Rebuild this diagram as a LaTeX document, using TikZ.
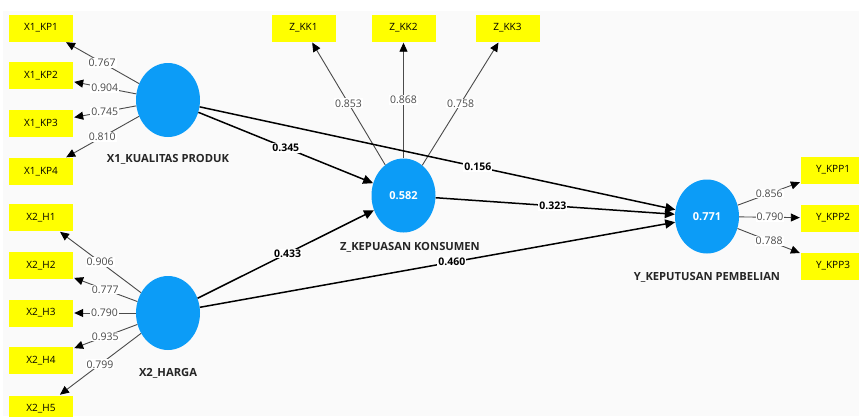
\documentclass[tikz,border=0pt]{standalone}
\usepackage{fontspec}
\setmainfont{Open Sans}
\usetikzlibrary{shapes.geometric,arrows.meta}
\definecolor{lvblue}{HTML}{0C9CF7}
\definecolor{indyellow}{HTML}{FFFF00}
\definecolor{canvas}{HTML}{FAFAFA}
\definecolor{loadgray}{HTML}{4A4A4A}
\tikzset{
  indicator/.style={fill=indyellow, minimum width=64pt, minimum height=27pt, inner sep=0pt, font=\fontsize{10}{11}\selectfont},
  latent/.style={ellipse, fill=lvblue, minimum width=64pt, minimum height=74pt, inner sep=0pt, text=white, font=\bfseries\fontsize{11}{12}\selectfont},
  lvname/.style={font=\bfseries\fontsize{11.2}{12}\selectfont, text=black!85},
  loading/.style={draw=loadgray, line width=0.9pt, -{Triangle[length=9pt,width=8pt,color=black]}, shorten >=1pt},
  loadlabel/.style={fill=white, text=loadgray, inner sep=1pt, font=\fontsize{10.5}{11}\selectfont},
  structural/.style={draw=black, line width=1.5pt, -{Triangle[length=10pt,width=9pt]}},
  pathlabel/.style={fill=white, text=black, inner sep=1pt, font=\bfseries\fontsize{10.5}{11}\selectfont},
}
\begin{document}
\begin{tikzpicture}[x=1pt,y=-1pt]
  \useasboundingbox (0,0) rectangle (859,416);
  \fill[white] (0,0) rectangle (859,416);
  \fill[canvas] (3,11) rectangle (859,416);
  \begin{scope}
  \clip (0,0) rectangle (859,416);

  % latent variables
  \node[latent] (x1) at (168,100) {};
  \node[latent] (x2) at (168,313) {};
  \node[latent] (z) at (403.5,195.5) {0.582};
  \node[latent] (y) at (707,216.5) {0.771};

  \node[lvname] (x1name) at (168,159) {X1\_KUALITAS PRODUK};
  \node[lvname] (x2name) at (168,373) {X2\_HARGA};
  \node[lvname] (zname) at (410,247) {Z\_KEPUASAN KONSUMEN};
  \node[lvname] (yname) at (707,277) {Y\_KEPUTUSAN PEMBELIAN};

  % indicators of X1
  \node[indicator] (kp1) at (41,28) {X1\_KP1};
  \node[indicator] (kp2) at (41,75.5) {X1\_KP2};
  \node[indicator] (kp3) at (41,123.5) {X1\_KP3};
  \node[indicator] (kp4) at (41,171.5) {X1\_KP4};

  % indicators of X2
  \node[indicator] (h1) at (41,217.5) {X2\_H1};
  \node[indicator] (h2) at (41,265.5) {X2\_H2};
  \node[indicator] (h3) at (41,313) {X2\_H3};
  \node[indicator] (h4) at (41,360.5) {X2\_H4};
  \node[indicator] (h5) at (41,409) {X2\_H5};

  % indicators of Z
  \node[indicator] (kk1) at (303.5,28) {Z\_KK1};
  \node[indicator] (kk2) at (403.5,28) {Z\_KK2};
  \node[indicator] (kk3) at (507.5,28) {Z\_KK3};

  % indicators of Y
  \node[indicator] (kpp1) at (833,170) {Y\_KPP1};
  \node[indicator] (kpp2) at (833,218) {Y\_KPP2};
  \node[indicator] (kpp3) at (833,266) {Y\_KPP3};

  % outer loadings
  \draw[loading] (x1) -- node[loadlabel] {0.767} (kp1);
  \draw[loading] (x1) -- node[loadlabel] {0.904} (kp2);
  \draw[loading] (x1) -- node[loadlabel] {0.745} (kp3);
  \draw[loading] (x1) -- node[loadlabel] {0.810} (kp4);

  \draw[loading] (x2) -- node[loadlabel] {0.906} (h1);
  \draw[loading] (x2) -- node[loadlabel] {0.777} (h2);
  \draw[loading] (x2) -- node[loadlabel] {0.790} (h3);
  \draw[loading] (x2) -- node[loadlabel] {0.935} (h4);
  \draw[loading] (x2) -- node[loadlabel] {0.799} (h5);

  \draw[loading] (z) -- node[loadlabel] {0.853} (kk1);
  \draw[loading] (z) -- node[loadlabel] {0.868} (kk2);
  \draw[loading] (z) -- node[loadlabel] {0.758} (kk3);

  \draw[loading] (y) -- node[loadlabel] {0.856} (kpp1);
  \draw[loading] (y) -- node[loadlabel] {0.790} (kpp2);
  \draw[loading] (y) -- node[loadlabel] {0.788} (kpp3);

  % structural paths
  \draw[structural] (x1) -- node[pathlabel, pos=0.5] {0.345} (z);
  \draw[structural] (x1) -- node[pathlabel, pos=0.585] {0.156} (y);
  \draw[structural] (z) -- node[pathlabel, pos=0.49] {0.323} (y);
  \draw[structural] (x2) -- node[pathlabel, pos=0.51] {0.433} (z);
  \draw[structural] (x2) -- node[pathlabel, pos=0.53] {0.460} (y);
  \end{scope}
\end{tikzpicture}
\end{document}
